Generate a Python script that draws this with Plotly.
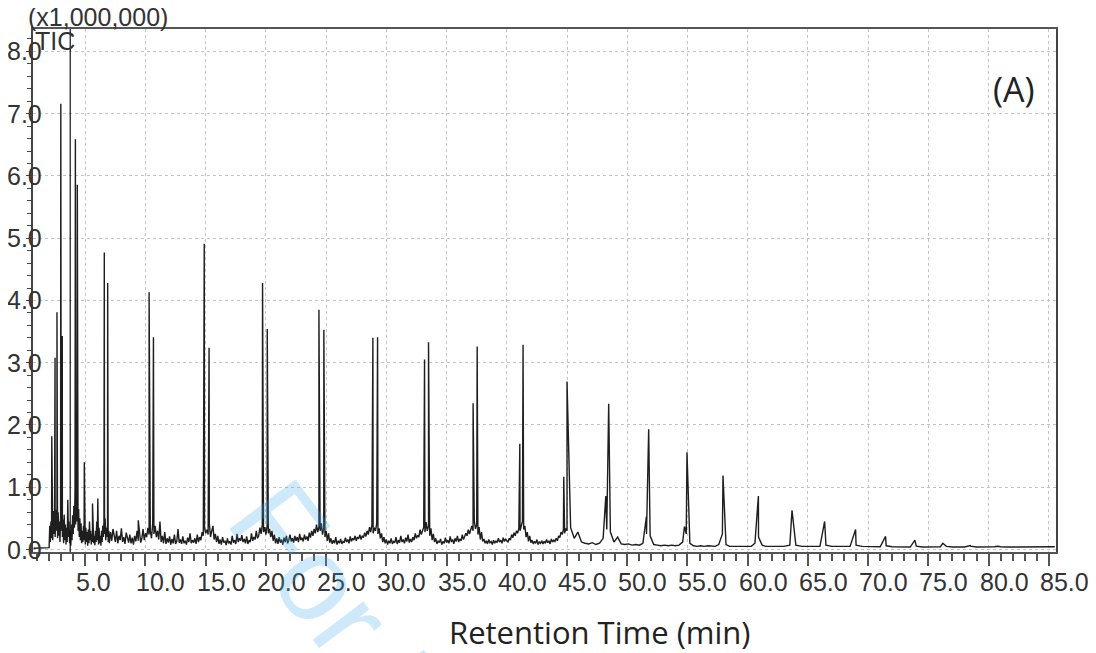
import plotly.graph_objects as go

# ---------------- data ----------------
# resolved peaks: retention time (min) and height (x1,000,000 counts)
peak_time = [2.22, 2.49, 2.65, 2.97, 3.09, 4.18, 4.34, 4.92, 5.60, 6.04,
             6.58, 6.86, 9.40, 10.30, 10.66, 14.88, 15.28, 19.72, 20.11,
             24.40, 24.81, 28.88, 29.27, 33.17, 33.50, 37.20, 37.54,
             41.08, 41.35, 44.73, 45.00, 48.22, 48.46, 51.59, 51.78,
             54.75, 54.96, 57.95, 60.89, 63.68, 66.39, 68.96, 71.45,
             73.88, 76.20, 78.48, 80.77, 82.99]
peak_height = [1.82, 3.08, 3.81, 7.16, 3.43, 6.59, 5.86, 1.40, 0.74, 0.82,
               4.77, 4.28, 0.47, 4.13, 3.41, 4.91, 3.24, 4.28, 3.54,
               3.85, 3.53, 3.40, 3.41, 3.05, 3.33, 2.35, 3.26,
               1.70, 3.29, 1.17, 2.70, 0.86, 2.34, 0.53, 1.93,
               0.37, 1.56, 1.19, 0.86, 0.63, 0.45, 0.32, 0.21,
               0.15, 0.10, 0.064, 0.053, 0.043]

# flat start before the first eluting compounds
lead_time = [0.70, 1.50, 1.95]
lead_level = [0.02, 0.02, 0.02]

# baseline "grass", sampled on the detector time grid
grass_a_start, grass_a_step = 2.00, 0.05
grass_a = [0.03, 0.38, 0.12, 0.45, 0.18, 0.55, 0.15, 0.62, 0.25, 0.58,
           0.20, 0.64, 0.30, 0.50, 0.18, 0.60, 0.22, 0.45, 0.12, 0.55,
           0.30, 0.62, 0.20, 0.48, 0.10, 0.56, 0.15, 0.40, 0.08, 0.35,
           0.12, 0.80, 0.20, 0.45, 0.10, 0.30, 0.06, 0.40, 0.15, 0.55,
           0.25, 0.70, 0.35, 0.95, 0.40, 0.85, 0.45, 0.75, 0.30, 0.65,
           0.20, 0.50, 0.15, 0.42, 0.10, 0.30, 0.12, 0.38, 0.15, 0.30,
           0.08, 0.35, 0.12, 0.28, 0.06, 0.32, 0.10, 0.45, 0.15, 0.30,
           0.08, 0.25, 0.12, 0.40, 0.10, 0.22, 0.07, 0.30, 0.12, 0.45,
           0.15, 0.28, 0.08, 0.35, 0.10, 0.22, 0.06, 0.30, 0.12, 0.38,
           0.20, 0.45, 0.25, 0.50, 0.15, 0.35, 0.20, 0.40, 0.12, 0.30,
           0.10]

grass_b_start, grass_b_step = 7.10, 0.10
grass_b = [
    0.28, 0.14, 0.33, 0.18, 0.12, 0.30, 0.10, 0.22, 0.15, 0.34,   # 7.1-8.0
    0.12, 0.20, 0.09, 0.27, 0.16, 0.11, 0.24, 0.10, 0.19, 0.08,   # 8.1-9.0
    0.22, 0.13, 0.30, 0.14, 0.25, 0.11, 0.18, 0.33, 0.15, 0.26,   # 9.1-10.0
    0.20, 0.35, 0.24, 0.30, 0.18, 0.42, 0.25, 0.38, 0.20, 0.30,   # 10.1-11.0
    0.16, 0.45, 0.12, 0.22, 0.10, 0.28, 0.09, 0.18, 0.11, 0.21,   # 11.1-12.0
    0.08, 0.17, 0.10, 0.24, 0.09, 0.13, 0.33, 0.11, 0.16, 0.09,   # 12.1-13.0
    0.21, 0.10, 0.14, 0.08, 0.19, 0.12, 0.26, 0.10, 0.15, 0.11,   # 13.1-14.0
    0.18, 0.09, 0.24, 0.12, 0.20, 0.15, 0.28, 0.22, 0.35, 0.26,   # 14.1-15.0
    0.32, 0.24, 0.42, 0.20, 0.30, 0.38, 0.16, 0.25, 0.12, 0.22,   # 15.1-16.0
    0.09, 0.16, 0.08, 0.20, 0.11, 0.14, 0.07, 0.18, 0.10, 0.13,   # 16.1-17.0
    0.08, 0.22, 0.11, 0.15, 0.09, 0.25, 0.12, 0.18, 0.14, 0.23,   # 17.1-18.0
    0.12, 0.17, 0.10, 0.21, 0.09, 0.15, 0.12, 0.26, 0.14, 0.20,   # 18.1-19.0
    0.16, 0.30, 0.18, 0.22, 0.35, 0.25, 0.40, 0.28, 0.36, 0.24,   # 19.1-20.0
    0.38, 0.26, 0.33, 0.20, 0.30, 0.14, 0.24, 0.10, 0.18, 0.09,   # 20.1-21.0
    0.20, 0.11, 0.16, 0.08, 0.19, 0.12, 0.22, 0.10, 0.15, 0.24,   # 21.1-22.0
    0.13, 0.18, 0.11, 0.22, 0.14, 0.20, 0.12, 0.25, 0.15, 0.19,   # 22.1-23.0
    0.13, 0.24, 0.16, 0.21, 0.14, 0.27, 0.19, 0.30, 0.22, 0.33,   # 23.1-24.0
    0.26, 0.40, 0.28, 0.36, 0.30, 0.42, 0.24, 0.35, 0.20, 0.30,   # 24.1-25.0
    0.14, 0.26, 0.11, 0.18, 0.09, 0.15, 0.10, 0.20, 0.08, 0.14,   # 25.1-26.0
    0.10, 0.17, 0.09, 0.13, 0.11, 0.19, 0.12, 0.16, 0.10, 0.21,   # 26.1-27.0
    0.13, 0.18, 0.15, 0.22, 0.14, 0.20, 0.17, 0.24, 0.16, 0.22,   # 27.1-28.0
    0.19, 0.27, 0.21, 0.30, 0.24, 0.36, 0.28, 0.40, 0.26, 0.35,   # 28.1-29.0
    0.30, 0.42, 0.25, 0.34, 0.18, 0.26, 0.12, 0.20, 0.10, 0.16,   # 29.1-30.0
    0.08, 0.14, 0.10, 0.18, 0.09, 0.13, 0.11, 0.20, 0.09, 0.15,   # 30.1-31.0
    0.11, 0.22, 0.12, 0.16, 0.10, 0.19, 0.13, 0.24, 0.11, 0.17,   # 31.1-32.0
    0.12, 0.20, 0.15, 0.26, 0.18, 0.23, 0.20, 0.32, 0.24, 0.30,   # 32.1-33.0
    0.36, 0.28, 0.44, 0.30, 0.38, 0.22, 0.34, 0.15, 0.25, 0.12,   # 33.1-34.0
    0.18, 0.09, 0.14, 0.11, 0.17, 0.08, 0.13, 0.10, 0.19, 0.11,   # 34.1-35.0
    0.15, 0.10, 0.21, 0.12, 0.16, 0.09, 0.18, 0.13, 0.22, 0.12,   # 35.1-36.0
    0.17, 0.14, 0.24, 0.16, 0.20, 0.26, 0.22, 0.32, 0.25, 0.30,   # 36.1-37.0
    0.38, 0.30, 0.46, 0.33, 0.40, 0.24, 0.36, 0.16, 0.28, 0.13,   # 37.1-38.0
    0.17, 0.10, 0.14, 0.09, 0.16, 0.11, 0.13, 0.08, 0.15, 0.10,   # 38.1-39.0
    0.14, 0.11, 0.18, 0.12, 0.15, 0.10, 0.19, 0.13, 0.17, 0.14,   # 39.1-40.0
    0.12, 0.18, 0.15, 0.24, 0.19, 0.27, 0.22, 0.30, 0.26, 0.34,   # 40.1-41.0
    0.30, 0.40, 0.45, 0.32, 0.38, 0.20, 0.28, 0.13, 0.22, 0.11,   # 41.1-42.0
    0.15, 0.09, 0.13, 0.10, 0.16, 0.08, 0.12, 0.10, 0.14, 0.09,   # 42.1-43.0
    0.13, 0.10, 0.16, 0.11, 0.14, 0.09, 0.17, 0.12, 0.15, 0.13,   # 43.1-44.0
    0.18, 0.14, 0.22, 0.19, 0.28, 0.24, 0.32, 0.26, 0.34, 0.30,   # 44.1-45.0
]

grass_c_start, grass_c_step = 45.30, 0.30
grass_c = [0.35, 0.18, 0.28, 0.12, 0.10, 0.09, 0.11, 0.08, 0.10, 0.18,
           0.32, 0.28, 0.12, 0.20, 0.09, 0.08, 0.09, 0.07, 0.08, 0.07,
           0.10, 0.25, 0.22, 0.08, 0.07, 0.06, 0.07, 0.06, 0.07, 0.06,
           0.07, 0.12, 0.25, 0.10, 0.06, 0.05, 0.06, 0.05, 0.06, 0.05,
           0.05, 0.08, 0.25, 0.08, 0.05, 0.05, 0.04, 0.05, 0.04, 0.05,
           0.05, 0.10, 0.20, 0.07, 0.05, 0.05]

grass_d_start, grass_d_step = 62.00, 0.50
grass_d = [0.05, 0.05, 0.05, 0.07, 0.07, 0.05, 0.05, 0.05, 0.05, 0.07,
           0.05, 0.05, 0.05, 0.05, 0.07, 0.05, 0.045, 0.045, 0.045, 0.06,
           0.045, 0.04, 0.04, 0.04, 0.055, 0.04, 0.04, 0.04, 0.045, 0.05,
           0.04, 0.04, 0.04, 0.055, 0.04, 0.04, 0.04, 0.045, 0.045, 0.04,
           0.04, 0.04, 0.045, 0.04, 0.04, 0.04, 0.045, 0.045]

marker_time = 3.75   # vertical event marker

x_tick_vals = [5.0, 10.0, 15.0, 20.0, 25.0, 30.0, 35.0, 40.0, 45.0,
               50.0, 55.0, 60.0, 65.0, 70.0, 75.0, 80.0, 85.0]
x_tick_text = ["5.0", "10.0", "15.0", "20.0", "25.0", "30.0", "35.0",
               "40.0", "45.0", "50.0", "55.0", "60.0", "65.0", "70.0",
               "75.0", "80.0", "85.0"]
y_tick_vals = [0, 1, 2, 3, 4, 5, 6, 7, 8]
y_tick_text = ["0.0", "1.0", "2.0", "3.0", "4.0", "5.0", "6.0", "7.0", "8.0"]

# ---------------- assemble the trace ----------------
pts = list(zip(lead_time, lead_level))
for start, step, vals in [(grass_a_start, grass_a_step, grass_a),
                          (grass_b_start, grass_b_step, grass_b),
                          (grass_c_start, grass_c_step, grass_c),
                          (grass_d_start, grass_d_step, grass_d)]:
    pts += [(round(start + i * step, 3), v) for i, v in enumerate(vals)]
pts += list(zip(peak_time, peak_height))
pts.sort(key=lambda p: p[0])
tt = [p[0] for p in pts]
ii = [p[1] for p in pts]

fig = go.Figure()
fig.add_trace(go.Scatter(x=tt, y=ii, mode="lines",
                         line=dict(color="#1e1e1e", width=1.4),
                         hoverinfo="skip", showlegend=False))

TICK_FONT = dict(family="Liberation Sans, Arial, sans-serif", size=25, color="#333333")
TITLE_FONT = "Open Sans, Noto Sans, sans-serif"

# page body has an 8px default margin; figure is sized so the page fits the window
fig.update_layout(
    width=1088, height=645,
    margin=dict(l=25, r=39.5, t=21, b=101),
    paper_bgcolor="white", plot_bgcolor="white",
    showlegend=False,
)
fig.update_xaxes(
    range=[0.66, 85.6], tickmode="linear", tick0=0, dtick=5,
    showticklabels=False, ticks="outside", ticklen=12, tickwidth=1.5, tickcolor="#555",
    minor=dict(tick0=0, dtick=1, ticks="outside", ticklen=7, tickwidth=1.5,
               tickcolor="#555", showgrid=False),
    showgrid=True, gridcolor="#c4c4c4", griddash="dot", gridwidth=1,
    showline=True, linecolor="#555", linewidth=1.5, mirror=True, zeroline=False,
)
fig.update_yaxes(
    range=[-0.04, 8.36], tickmode="linear", tick0=0, dtick=1,
    showticklabels=False, ticks="outside", ticklen=5, tickwidth=1.2, tickcolor="#444",
    minor=dict(tick0=0, dtick=0.2, ticks="outside", ticklen=4, tickwidth=1.2,
               tickcolor="#444", showgrid=False),
    showgrid=True, gridcolor="#c4c4c4", griddash="dot", gridwidth=1,
    showline=True, linecolor="#444", linewidth=1.5, mirror=True, zeroline=False,
)

# event marker line
fig.add_shape(type="line", xref="x", yref="paper", x0=marker_time, x1=marker_time,
              y0=0, y1=1, line=dict(color="#111", width=1.2))

ann = []
for v, s in zip(x_tick_vals, x_tick_text):
    ann.append(dict(x=v, y=0, xref="x", yref="paper", text=s, showarrow=False,
                    xanchor="left", yanchor="middle", xshift=-11, yshift=-30,
                    font=TICK_FONT))
for v, s in zip(y_tick_vals, y_tick_text):
    ann.append(dict(x=0, y=v, xref="paper", yref="y", text=s, showarrow=False,
                    xanchor="right", yanchor="middle", xshift=11, font=TICK_FONT))

ann.append(dict(x=0, y=1.022, xref="paper", yref="paper", text="(x1,000,000)",
                showarrow=False, xanchor="left", yanchor="middle", xshift=-7,
                font=TICK_FONT))
ann.append(dict(x=0, y=0.977, xref="paper", yref="paper", text="TIC",
                showarrow=False, xanchor="left", yanchor="middle", xshift=0,
                font=TICK_FONT))
ann.append(dict(x=0.9594, y=0.885, xref="paper", yref="paper", text="(A)",
                showarrow=False, xanchor="center", yanchor="middle",
                font=dict(family=TITLE_FONT, size=34, color="#222")))
ann.append(dict(x=0.554, y=-0.153, xref="paper", yref="paper", text="Retention Time (min)",
                showarrow=False, xanchor="center", yanchor="middle",
                font=dict(family=TITLE_FONT, size=31, color="#222")))
# watermark
ann.append(dict(x=0.482, y=-0.5755, xref="paper", yref="paper", text="For Peer Review",
                showarrow=False, xanchor="center", yanchor="middle", textangle=53,
                font=dict(family="Liberation Sans, Arial, sans-serif", size=120,
                          color="rgba(60,170,235,0.26)")))
fig.update_layout(annotations=ann)

fig.write_html("out.html")
